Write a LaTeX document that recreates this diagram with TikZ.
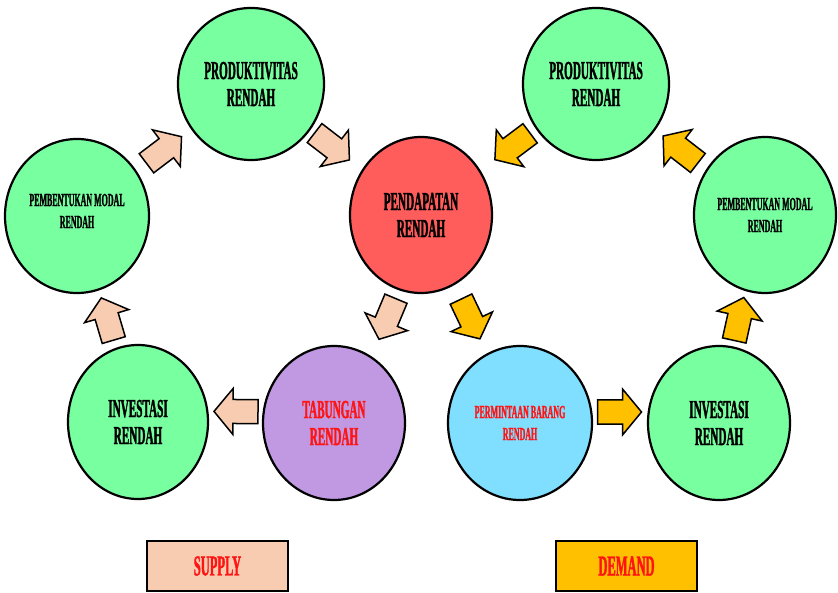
\documentclass[tikz,border=0pt]{standalone}
\usepackage{fontspec}
\newfontfamily\cf[FakeStretch=0.43,BoldFeatures={FakeBold=1.2}]{Liberation Serif}
\usetikzlibrary{shapes.geometric,calc}
\definecolor{cgreen}{RGB}{120,255,160}
\definecolor{cred}{RGB}{255,92,92}
\definecolor{cpurple}{RGB}{193,152,226}
\definecolor{cblue}{RGB}{128,222,255}
\definecolor{cpeach}{RGB}{248,204,176}
\definecolor{corange}{RGB}{255,192,0}
\definecolor{ctxtred}{RGB}{255,20,20}
\newcommand\bigtxt{\cf\bfseries\fontsize{26}{27}\selectfont}
\newcommand\smalltxt{\cf\bfseries\fontsize{18.5}{22}\selectfont}
\newcommand\legtxt{\cf\bfseries\fontsize{29}{30}\selectfont}
\tikzset{
  circ/.style={ellipse, draw=black, line width=2.2pt, inner sep=0pt, align=center, font=\bigtxt},
  smallcirc/.style={circ, font=\smalltxt},
  smalltext/.style={inner sep=0pt, align=center, font=\smalltxt},
  legbox/.style={rectangle, draw=black, line width=2.4pt, minimum width=141pt, minimum height=50pt, inner sep=0pt, font=\legtxt, text=ctxtred},
  blockarrow/.pic={\draw[pic actions, line width=1.5pt, line join=miter]
     (-22,-12) -- (3,-12) -- (3,-23) -- (22,0) -- (3,23) -- (3,12) -- (-22,12) -- cycle;},
  supplyarrow/.style={fill=cpeach, draw=black},
  demandarrow/.style={fill=corange, draw=black}
}
\newcommand\blockconn[4]{% style, from, to, shift
  \path let \p1=(#2), \p2=(#3), \n1={atan2(\y2-\y1,\x2-\x1)} in
    ($(#2)!0.5!(#3)+#4$) pic[#1, rotate=\n1] {blockarrow};}
\begin{document}
\begin{tikzpicture}[x=1pt,y=-1pt]
\useasboundingbox (0,0) rectangle (838,593);
% supply side
\node[circ, fill=cgreen, minimum width=146pt, minimum height=152pt] (prodL) at (251,84) {PRODUKTIVITAS\\RENDAH};
\node[circ, fill=cgreen, minimum width=144pt, minimum height=154pt] (pembL) at (77,216) {};
\node[smalltext] (pembLtxt) at (77,211) {PEMBENTUKAN MODAL\\RENDAH};
\node[circ, fill=cgreen, minimum width=140pt, minimum height=154pt] (invL) at (138,422) {INVESTASI\\RENDAH};
\node[circ, fill=cpurple, text=ctxtred, minimum width=142pt, minimum height=154pt] (tab) at (334,423) {TABUNGAN\\RENDAH};
% centre
\node[circ, fill=cred, minimum width=142pt, minimum height=156pt] (pend) at (421,215) {PENDAPATAN\\RENDAH};
% demand side
\node[smallcirc, fill=cblue, text=ctxtred, minimum width=144pt, minimum height=154pt] (perm) at (520,423) {PERMINTAAN BARANG\\RENDAH};
\node[circ, fill=cgreen, minimum width=142pt, minimum height=154pt] (invR) at (719,423) {INVESTASI\\RENDAH};
\node[smallcirc, fill=cgreen, minimum width=142pt, minimum height=156pt] (pembR) at (765,215) {PEMBENTUKAN MODAL\\RENDAH};
\node[circ, fill=cgreen, minimum width=146pt, minimum height=152pt] (prodR) at (596,84) {PRODUKTIVITAS\\RENDAH};
% supply arrows
\blockconn{supplyarrow}{pembL}{prodL}{(0,0)}
\blockconn{supplyarrow}{prodL}{pend}{(-4,-3)}
\blockconn{supplyarrow}{pend}{tab}{(10,0)}
\blockconn{supplyarrow}{tab}{invL}{(0,-11)}
\blockconn{supplyarrow}{invL}{pembL}{(0,0)}
% demand arrows
\blockconn{demandarrow}{pend}{perm}{(0,0)}
\blockconn{demandarrow}{perm}{invR}{(0,-11)}
\blockconn{demandarrow}{invR}{pembR}{(-3,0)}
\blockconn{demandarrow}{pembR}{prodR}{(0,0)}
\blockconn{demandarrow}{prodR}{pend}{(4,-3)}
% legend
\node[legbox, fill=cpeach] (supply) at (217.5,566) {SUPPLY};
\node[legbox, fill=corange] (demand) at (626.5,566) {DEMAND};
\end{tikzpicture}
\end{document}
